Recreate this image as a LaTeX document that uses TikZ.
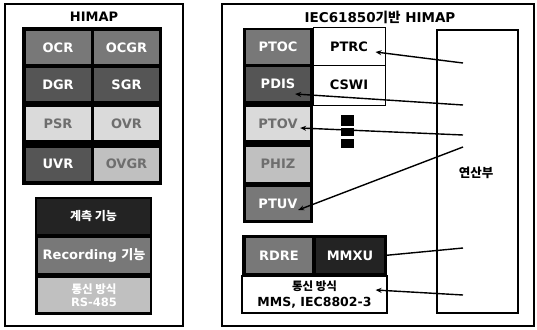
\documentclass[tikz,border=0pt]{standalone}
\usepackage{fontspec}
\setmainfont{DejaVu Sans}
\newfontfamily\kr{Noto Sans CJK KR}
\usetikzlibrary{arrows.meta,positioning,calc}
\definecolor{cellmid}{RGB}{120,120,120}
\definecolor{celldark}{RGB}{85,85,85}
\definecolor{celllight}{RGB}{218,218,218}
\definecolor{cellpale}{RGB}{192,192,192}
\definecolor{cellblack}{RGB}{35,35,35}
\definecolor{softtxt}{RGB}{110,110,110}

\tikzset{
  cell/.style={inner sep=0pt, text=white, font=\bfseries\fontsize{13}{15}\selectfont},
  frame/.style={draw=black, line width=1.2pt},
  conn/.style={line width=1.4pt, -{Stealth[length=6pt,width=5pt]}},
}

\begin{document}
\begin{tikzpicture}[x=1pt,y=-1pt]
    \useasboundingbox (0,0) rectangle (537,329);
    \fill[white] (0,0) rectangle (537,329);
    % left panel: HIMAP
    \draw[frame] (5,4) rectangle (183,326);
    \node[font=\bfseries\fontsize{13}{15}\selectfont] (himap) at (94,17) {HIMAP};
    \fill[black] (22,27) rectangle (162,185);
    \foreach \nm/\lbl/\cx/\cy/\fc/\tc in {
        ocr/OCR/58/47.5/cellmid/white, ocgr/OCGR/126.5/47.5/cellmid/white,
        dgr/DGR/58/84.5/celldark/white, sgr/SGR/126.5/84.5/celldark/white,
        psr/PSR/58/123.5/celllight/softtxt, ovr/OVR/126.5/123.5/celllight/softtxt,
        uvr/UVR/58/164/celldark/white, ovgr/OVGR/126.5/164/cellpale/softtxt}{
      \node[cell, fill=\fc, text=\tc, minimum width=65pt, minimum height=33pt] (\nm) at (\cx,\cy) {\lbl};
    }
    % functions
    \fill[black] (35,197) rectangle (152,315);
    \node[cell, fill=cellblack, minimum width=113pt, minimum height=35pt,
          font=\bfseries\fontsize{12}{13}\selectfont] (meter) at (93.5,216.5) {\kr 계측 기능};
    \node[cell, fill=cellmid, minimum width=112pt, minimum height=35pt,
          font=\bfseries\fontsize{13}{14}\selectfont] (rec) at (94,255.5) {Recording {\kr 기능}};
    \node[cell, fill=cellpale, minimum width=112pt, minimum height=34pt, align=center,
          font=\bfseries\fontsize{11.5}{12.5}\selectfont] (rs) at (94,295) {{\kr 통신 방식}\\RS-485};

    % right panel: IEC61850 based HIMAP
    \draw[frame] (222,4) rectangle (534,326);
    \node[font=\bfseries\fontsize{13.5}{15}\selectfont] (title) at (380,17) {IEC61850{\kr 기반} HIMAP};
    \fill[black] (243,28) rectangle (313,223);
    \foreach \nm/\lbl/\cy/\h/\fc/\tc in {
        ptoc/PTOC/47/34/cellmid/white, pdis/PDIS/84/34/celldark/white,
        ptov/PTOV/123.5/33/celllight/softtxt, phiz/PHIZ/164/35/cellpale/softtxt,
        ptuv/PTUV/203.5/33/cellmid/white}{
      \node[cell, fill=\fc, text=\tc, minimum width=64pt, minimum height=\h pt] (\nm) at (278,\cy) {\lbl};
    }
    \node[cell, draw=black, line width=1pt, fill=white, text=black,
          minimum width=72pt, minimum height=37pt] (ptrc) at (349,46.5) {PTRC};
    \node[cell, draw=black, line width=1pt, fill=white, text=black,
          minimum width=72pt, minimum height=40pt] (cswi) at (349,85) {CSWI};
    % vertical dots
    \fill[black] (341,115) rectangle (354,126);
    \fill[black] (341,128) rectangle (354,136);
    \fill[black] (341,139) rectangle (354,148);
    % calculation unit
    \node[draw=black, line width=1.6pt, minimum width=81pt, minimum height=283pt, inner sep=0pt]
      (calc) at (477.5,171.5) {};
    \node[font=\bfseries\fontsize{12.5}{14}\selectfont] (calclbl) at (476,173) {\kr 연산부};
    % measuring and communication
    \fill[black] (242,235) rectangle (387,277);
    \node[cell, fill=cellmid, minimum width=66pt, minimum height=35pt] (rdre) at (279,255.5) {RDRE};
    \node[cell, fill=cellblack, minimum width=68pt, minimum height=35pt] (mmxu) at (350,255.5) {MMXU};
    \node[cell, draw=black, line width=1.2pt, fill=white, text=black, minimum width=145pt,
          minimum height=37pt, align=center, font=\bfseries\fontsize{12.5}{16}\selectfont]
      (comm) at (314.5,294.5) {{\kr\fontsize{11.5}{16}\selectfont 통신 방식}\\MMS, IEC8802-3};

    % links from calculation unit
    \coordinate (c1) at (463,63);
    \coordinate (c2) at (463,105);
    \coordinate (c3) at (463,135);
    \coordinate (c4) at (463,147);
    \coordinate (c5) at (463,248);
    \coordinate (c6) at (463,295);
    \draw[conn] (c1) -- ([xshift=-10pt,yshift=-5.5pt]ptrc.east);
    \draw[conn] (c2) -- ([xshift=-15pt,yshift=-10pt]pdis.east);
    \draw[conn] (c3) -- ([xshift=-10pt,yshift=-4.5pt]ptov.east);
    \draw[conn] (c4) -- ([xshift=-12pt,yshift=-6.5pt]ptuv.east);
    \draw[line width=1.4pt] (mmxu.east) -- (c5);
    \draw[conn] (c6) -- ([xshift=-12pt,yshift=4.5pt]comm.east);
\end{tikzpicture}
\end{document}
